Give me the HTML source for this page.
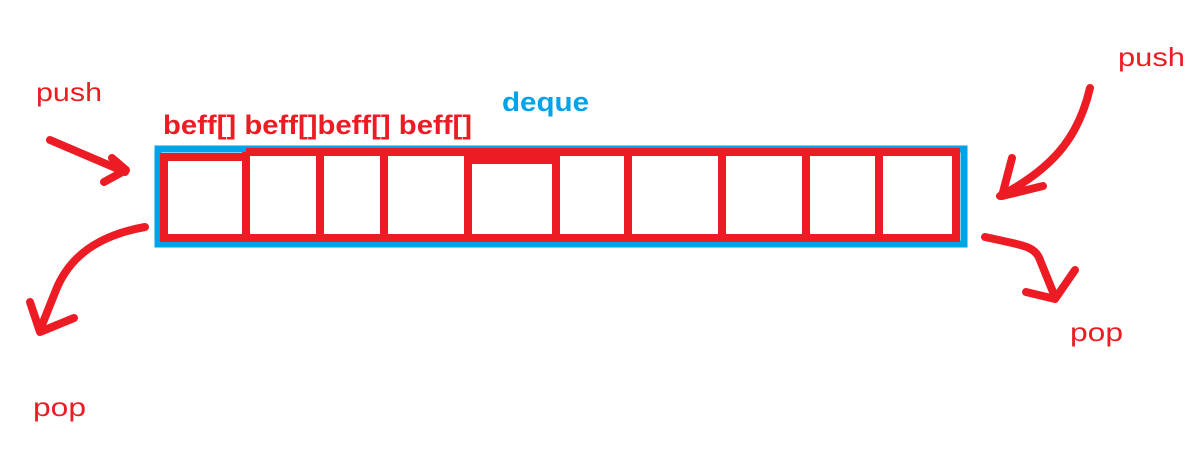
<!DOCTYPE html>
<html><head><meta charset="utf-8"><style>
body{margin:0;background:#fff;}
svg{display:block}
text{font-family:"Liberation Sans","DejaVu Sans",sans-serif;}
</style></head><body>
<svg width="1203" height="461" viewBox="0 0 1203 461" xmlns="http://www.w3.org/2000/svg">
<rect x="158" y="149" width="806" height="95" fill="none" stroke="#00a2e8" stroke-width="7"/>
<g fill="none" stroke="#ed1c24" stroke-width="8">
<path d="M160 157 L246 157 M246 152 L956 152 L956 238 L164 238 L164 153"/>
<rect x="470" y="152" width="86" height="12" fill="#ed1c24" stroke="none"/>
<path d="M246 152V238 M320 156V238 M384 156V238 M468 156V238 M556 156V238 M628 156V238 M722 156V238 M806 156V238 M879 156V238"/>
</g>
<g fill="none" stroke="#ed1c24" stroke-width="8" stroke-linecap="round" stroke-linejoin="round">
<path d="M50 140 L125 172"/><path d="M112 158 L126 170 L104 182"/>
<path d="M145 227 C100 235 70 255 56 290 L40 330"/><path d="M30 302 L40 332 L74 318"/>
<path d="M1090 88 C1080 130 1060 165 1000 196"/><path d="M1012 158 L1002 196 L1043 186"/>
<path d="M985 237 C1020 245 1035 245 1040 260 L1055 297"/><path d="M1026 292 L1055 299 L1075 270"/>
</g>
<g fill="#ed1c24" font-size="26">
<text x="36" y="101" textLength="66" lengthAdjust="spacingAndGlyphs">push</text>
<text x="1118" y="66" textLength="67" lengthAdjust="spacingAndGlyphs">push</text>
<text x="1070" y="341" textLength="53" lengthAdjust="spacingAndGlyphs">pop</text>
<text x="33" y="416" textLength="53" lengthAdjust="spacingAndGlyphs">pop</text>
</g>
<text x="163" y="134" fill="#ed1c24" font-size="27" font-weight="bold" textLength="309" lengthAdjust="spacingAndGlyphs">beff[] beff[]beff[] beff[]</text>
<text x="502" y="111" fill="#00a2e8" font-size="27" font-weight="bold" textLength="87" lengthAdjust="spacingAndGlyphs">deque</text>
</svg>
</body></html>
